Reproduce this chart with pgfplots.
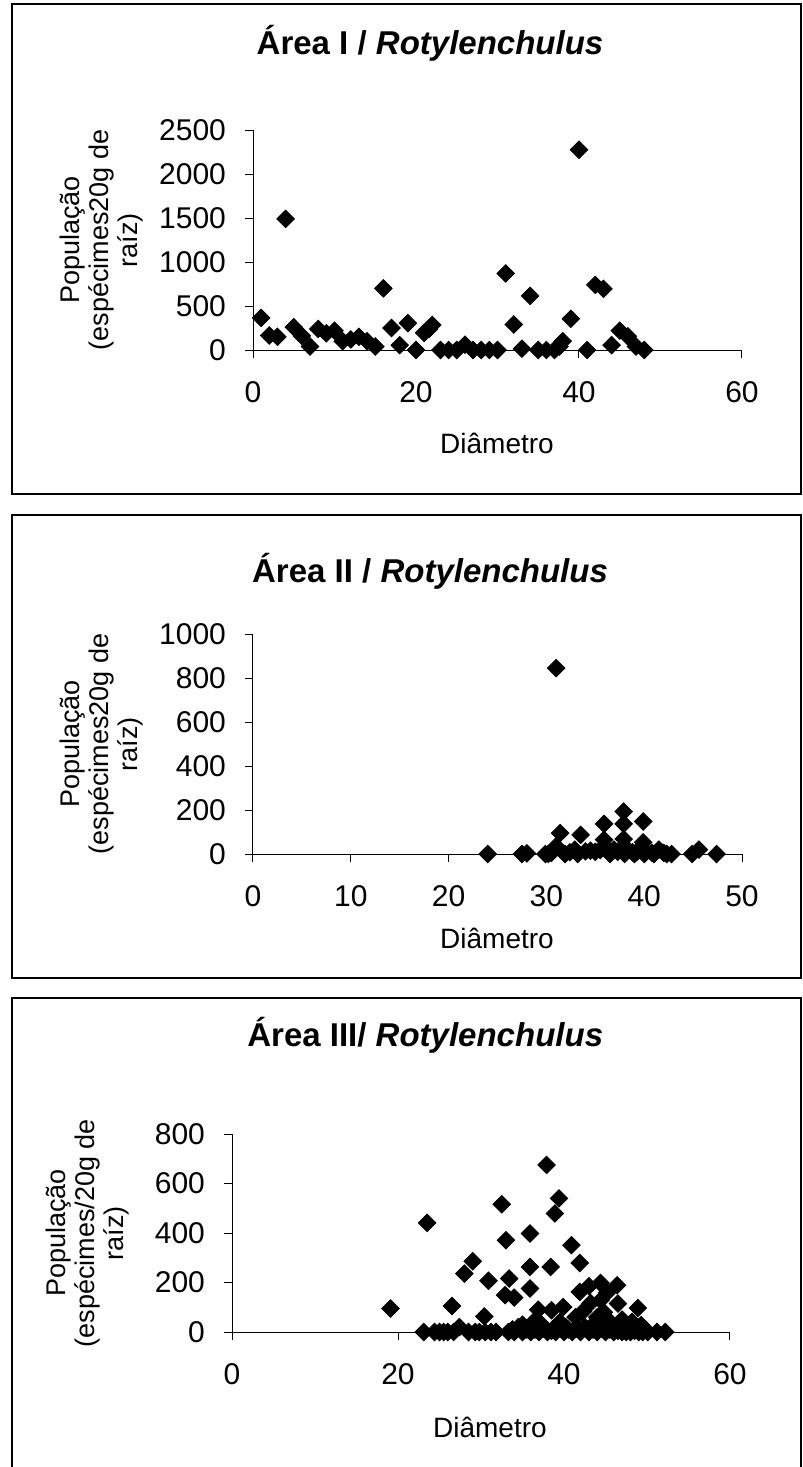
\documentclass[border=0pt]{standalone}
\usepackage{fontspec}
\setmainfont{Liberation Sans}
\usepackage{pgfplots}
\pgfplotsset{compat=1.18}

\newcommand{\tckfont}{\fontsize{15}{17}\selectfont}
\newcommand{\lblfont}{\fontsize{14}{15.5}\selectfont}
\newcommand{\ylblfont}{\fontsize{13.5}{14.5}\selectfont}
\newcommand{\ttlfont}{\fontsize{16.5}{19}\selectfont\bfseries}

\pgfplotsset{
  panel/.style={
    scale only axis, anchor=south west,
    axis x line=bottom, axis y line=left,
    axis line style={-, black, line width=0.5pt},
    tick style={black, line width=0.5pt},
    major tick length=4pt, tick align=outside,
    enlargelimits=false, clip=false,
    tick label style={font=\tckfont},
    /pgf/number format/assume math mode=true,
    /pgf/number format/1000 sep={},
    xticklabel style={yshift=-8pt},
    yticklabel style={xshift=-6pt},
    label style={font=\lblfont},
    title style={font=\ttlfont, anchor=center},
    ylabel style={align=center, anchor=center, font=\ylblfont},
    xlabel style={anchor=center},
  },
  pts/.style={only marks, mark=square*, mark size=3.1pt,
    mark options={rotate=45, black, fill=black}},
}

\begin{document}
\begin{tikzpicture}
\useasboundingbox (0,0) rectangle (401.5pt,-733.5pt);

% frames
\draw[black, line width=0.75pt] (6pt,-2pt) rectangle (400.5pt,-247pt);
\draw[black, line width=0.75pt] (6pt,-257.5pt) rectangle (400.5pt,-489pt);
\draw[black, line width=0.75pt] (6pt,-499pt) rectangle (400.5pt,-736pt);

% Area I
\begin{axis}[panel, at={(126.5pt,-175pt)}, width=244.5pt, height=110pt,
  xmin=0, xmax=60, ymin=0, ymax=2500,
  xtick={0,20,40,60}, ytick={0,500,1000,1500,2000,2500},
  title={Área I / \textit{Rotylenchulus}},
  title style={at={(axis description cs:0.362,1.341)}},
  xlabel={Diâmetro}, xlabel style={at={(axis description cs:0.499,-0.423)}},
  ylabel={População\\(espécimes20g de\\raíz)},
  ylabel style={at={(axis description cs:-0.31,0.5)}},
]
\addplot[pts] coordinates {
  (1,365)(2,165)(3,150)(4,1490)(5,260)(6,160)(7,40)(8,240)(9,190)(10,220)
  (11,100)(12,120)(13,150)(14,100)(15,40)(16,700)(17,250)(18,55)(19,305)(20,0)
  (21,195)(21.6,240)(22,285)(23,0)(24,0)(25,0)(26,60)(27,0)(28,0)(29,0)(30,0)
  (31,870)(32,290)(33,15)(34,615)(35,0)(36,0)(37,0)(37.6,40)(38,100)(39,355)
  (40,2275)(41,0)(42,740)(43,695)(44,55)(45,220)(46,155)(47,40)(48,0)
};
\end{axis}

% Area II
\begin{axis}[panel, at={(126.5pt,-427pt)}, width=244.5pt, height=110pt,
  xmin=0, xmax=50, ymin=0, ymax=1000,
  xtick={0,10,20,30,40,50}, ytick={0,200,400,600,800,1000},
  title={Área II / \textit{Rotylenchulus}},
  title style={at={(axis description cs:0.362,1.23)}},
  xlabel={Diâmetro}, xlabel style={at={(axis description cs:0.499,-0.385)}},
  ylabel={População\\(espécimes20g de\\raíz)},
  ylabel style={at={(axis description cs:-0.31,0.5)}},
]
\addplot[pts] coordinates {
  (24,0)(27.5,0)(28,3)(29.9,0)(30.2,0)(30.5,5)(31,845)(31,35)(31.4,95)(31.9,0)
  (32.4,8)(32.9,20)(33.2,0)(33.5,87)(34,12)(34.5,15)(35,10)(35.5,18)(35.9,137)
  (35.9,65)(36.2,25)(36.5,0)(36.9,20)(37.3,10)(37.9,193)(37.9,137)(37.9,68)
  (38,0)(38.3,20)(38.8,8)(39,0)(39.3,12)(39.9,148)(39.9,53)(40,0)(40.2,10)
  (40.8,5)(41,0)(41.5,20)(42,5)(42.3,0)(42.8,0)(44.9,0)(45.6,20)(47.4,0)
};
\end{axis}

% Area III
\begin{axis}[panel, at={(116pt,-666pt)}, width=249pt, height=99pt,
  xmin=0, xmax=60, ymin=0, ymax=800,
  xtick={0,20,40,60}, ytick={0,200,400,600,800},
  title={Área III/ \textit{Rotylenchulus}},
  title style={at={(axis description cs:0.388,1.44)}},
  xlabel={Diâmetro}, xlabel style={at={(axis description cs:0.518,-0.48)}},
  ylabel={População\\(espécimes/20g de\\raíz)},
  ylabel style={at={(axis description cs:-0.29,0.5)}},
]
\addplot[pts] coordinates {
  (19.1,95)(23.1,0)(23.5,441)(24.4,0)(25,0)(25.5,0)(26,0)(26.5,105)(26.7,0)
  (27.4,20)(28,236)(28.5,0)(29,286)(29.3,0)(29.8,0)(30.4,63)(30.5,0)(30.9,207)
  (31.2,0)(31.8,0)(32.5,516)(32.9,149)(33,371)(33.4,216)(33.3,0)(33.8,10)
  (34,139)(34,0)(34.5,20)(35,30)(35,0)(35.5,10)(35.9,398)(35.9,263)(35.9,176)
  (36,0)(36.3,40)(36.5,10)(36.9,90)(37,0)(37.3,30)(37.5,15)(37.9,675)(38,0)
  (38.4,263)(38.5,88)(38.5,5)(38.9,479)(39,20)(39,0)(39.4,540)(39.5,40)
  (39.9,101)(40,0)(40.2,20)(40.5,10)(40.9,351)(41,0)(41.4,60)(41.5,15)
  (41.9,279)(41.9,162)(42,0)(42.3,83)(42.5,20)(43,185)(43,0)(43.2,117)
  (43.5,30)(43.5,10)(44,60)(44,0)(44.4,198)(44.4,128)(44.5,15)(44.8,80)
  (45,0)(45.2,159)(45.5,10)(45.6,40)(46,20)(46,0)(46.4,189)(46.5,115)
  (46.5,5)(47,50)(47,0)(47.5,20)(47.5,0)(48,0)(48.2,41)(48.5,5)(48.9,97)
  (49,0)(49.3,28)(49.5,0)(50.1,0)(51.2,0)(52.2,0)
};
\end{axis}
\end{tikzpicture}
\end{document}
